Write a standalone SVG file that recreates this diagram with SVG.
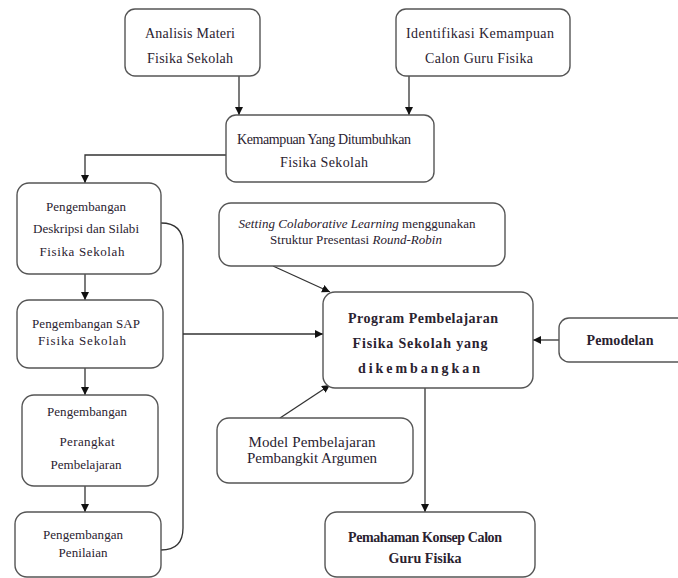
<svg xmlns="http://www.w3.org/2000/svg" width="678" height="578" viewBox="0 0 678 578">
<defs>
<style>
.box{fill:#fff;stroke:#555;stroke-width:1.4}
.t{font-family:"Liberation Serif","Times New Roman",serif;font-size:14px;fill:#2a2230;text-anchor:middle}
.s{font-size:13px}
.b{font-weight:bold}
.i{font-style:italic}
.c{fill:none;stroke:#333;stroke-width:1.3}
</style>
<marker id="ah" viewBox="0 0 10 10" refX="10" refY="5" markerWidth="8" markerHeight="8" markerUnits="userSpaceOnUse" orient="auto">
<path d="M0,0 L10,5 L0,10 z" fill="#111"/>
</marker>
</defs>
<rect width="678" height="578" fill="#fff"/>

<g id="connectors">
<path class="c" d="M239,76 V115" marker-end="url(#ah)"/>
<path class="c" d="M409,76 V115" marker-end="url(#ah)"/>
<path class="c" d="M226,155 H85 V183" marker-end="url(#ah)"/>
<path class="c" d="M85,274 V300" marker-end="url(#ah)"/>
<path class="c" d="M85,368 V395" marker-end="url(#ah)"/>
<path class="c" d="M85,486 V512" marker-end="url(#ah)"/>
<path class="c" d="M161,223 Q183,223 183,245 V528 Q183,550 161,550"/>
<path class="c" d="M183,334 H323" marker-end="url(#ah)"/>
<path class="c" d="M273,266 L330,292" marker-end="url(#ah)"/>
<path class="c" d="M280,418 L330,385" marker-end="url(#ah)"/>
<path class="c" d="M559,340 H533" marker-end="url(#ah)"/>
<path class="c" d="M425,388 V512" marker-end="url(#ah)"/>
<path class="c" d="M48,463 V486" stroke-width="1.6"/>
</g>

<g id="analisis">
<rect class="box" x="125" y="9" width="135" height="67" rx="10"/>
<text class="t" x="190" y="38" textLength="90">Analisis Materi</text>
<text class="t" x="190" y="63" textLength="86">Fisika Sekolah</text>
</g>

<g id="identifikasi">
<rect class="box" x="396" y="9" width="174" height="67" rx="10"/>
<text class="t" x="480" y="38" textLength="148">Identifikasi Kemampuan</text>
<text class="t" x="479" y="63" textLength="108">Calon Guru Fisika</text>
</g>

<g id="kemampuan">
<rect class="box" x="226" y="115" width="208" height="67" rx="10"/>
<text class="t" x="324" y="144" textLength="174">Kemampuan Yang Ditumbuhkan</text>
<text class="t" x="324" y="167" textLength="88">Fisika Sekolah</text>
</g>

<g id="deskripsi">
<rect class="box" x="17" y="183" width="144" height="91" rx="12"/>
<text class="t s" x="86" y="211" textLength="80">Pengembangan</text>
<text class="t s" x="86" y="233" textLength="106">Deskripsi dan Silabi</text>
<text class="t s" x="82" y="256" textLength="85">Fisika Sekolah</text>
</g>

<g id="sap">
<rect class="box" x="17" y="300" width="146" height="68" rx="12"/>
<text class="t s" x="86" y="328" textLength="108">Pengembangan SAP</text>
<text class="t s" x="82" y="345" textLength="88">Fisika Sekolah</text>
</g>

<g id="perangkat">
<rect class="box" x="22" y="395" width="136" height="91" rx="12"/>
<text class="t s" x="87" y="416" textLength="80">Pengembangan</text>
<text class="t s" x="87" y="446" textLength="55">Perangkat</text>
<text class="t s" x="86" y="469" textLength="71">Pembelajaran</text>
</g>

<g id="penilaian">
<rect class="box" x="15" y="512" width="146" height="65" rx="12"/>
<text class="t s" x="83" y="539" textLength="80">Pengembangan</text>
<text class="t s" x="83" y="557" textLength="49">Penilaian</text>
</g>

<g id="setting">
<rect class="box" x="219" y="203" width="286" height="63" rx="12"/>
<text class="t s" x="357" y="228" textLength="237"><tspan class="i">Setting Colaborative Learning</tspan> menggunakan</text>
<text class="t s" x="356" y="244" textLength="172">Struktur Presentasi <tspan class="i">Round-Robin</tspan></text>
</g>

<g id="program">
<rect class="box" x="323" y="292" width="210" height="96" rx="12"/>
<text class="t b" x="423" y="323" textLength="150">Program Pembelajaran</text>
<text class="t b" x="420" y="348" textLength="135">Fisika Sekolah yang</text>
<text class="t b" x="419" y="373" textLength="122">dikembangkan</text>
</g>

<g id="pemodelan">
<rect class="box" x="559" y="318" width="130" height="44" rx="10"/>
<text class="t b" x="620" y="345" textLength="67">Pemodelan</text>
</g>

<g id="model">
<rect class="box" x="217" y="418" width="196" height="65" rx="12"/>
<text class="t" x="312" y="447" textLength="127" style="font-size:15px">Model Pembelajaran</text>
<text class="t" x="312" y="463" textLength="130" style="font-size:15px">Pembangkit Argumen</text>
</g>

<g id="pemahaman">
<rect class="box" x="325" y="512" width="210" height="65" rx="12"/>
<text class="t b" x="425" y="542" textLength="154">Pemahaman Konsep Calon</text>
<text class="t b" x="425" y="563" textLength="73">Guru Fisika</text>
</g>
</svg>
